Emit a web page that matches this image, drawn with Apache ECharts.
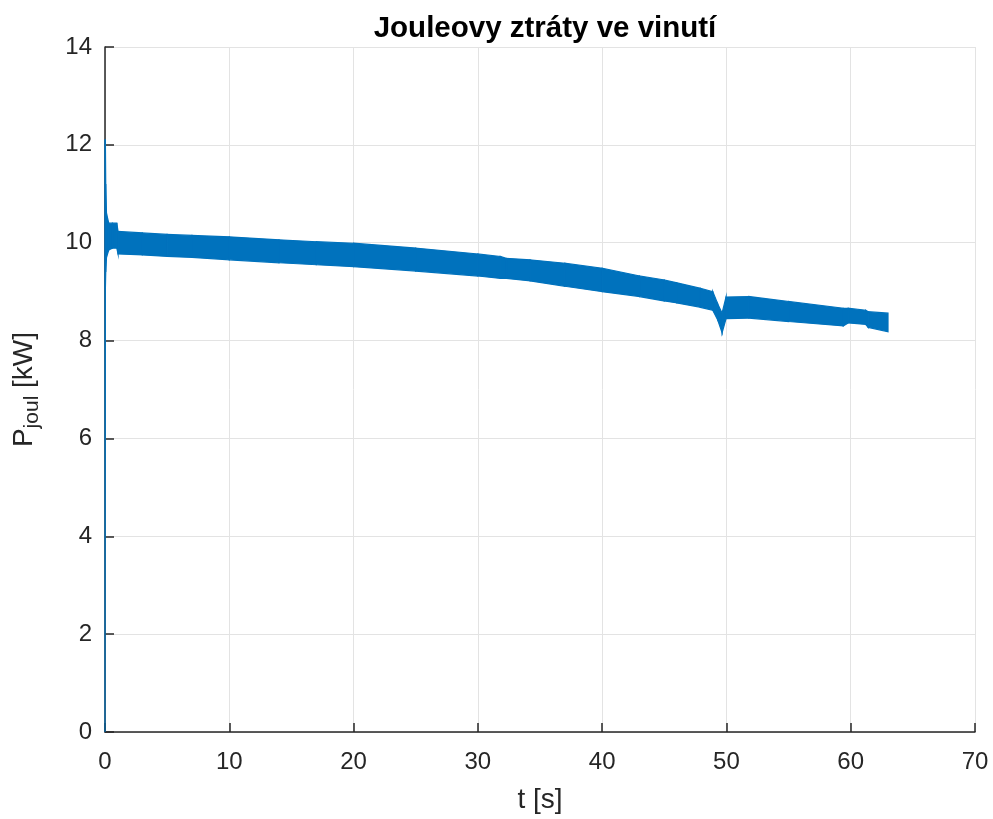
<!DOCTYPE html>
<html>
<head>
<meta charset="utf-8">
<script src="https://cdn.jsdelivr.net/npm/echarts@6/dist/echarts.min.js"></script>
<style>
html,body{margin:0;padding:0;background:#fff;}
#chart{width:993px;height:819px;}
</style>
</head>
<body>
<div id="chart"></div>
<script>
// time [s]
var tVals = [0, 0.03, 0.06, 0.12, 0.3, 0.6, 0.95, 1.05, 3, 5, 7, 10, 14, 17, 20, 25, 30, 31.8, 32.3, 34.2, 37, 40, 43, 45, 46, 47.9, 48.9, 49.3, 49.65, 49.97, 51.8, 55, 59.4, 59.8, 61.2, 61.4, 63.0];
// upper envelope of P_joul [kW]
var upperVals = [12.1, 12.1, 11.2, 10.6, 10.4, 10.4, 10.4, 10.23, 10.2, 10.17, 10.15, 10.12, 10.06, 10.02, 9.99, 9.89, 9.77, 9.72, 9.68, 9.65, 9.58, 9.48, 9.32, 9.24, 9.18, 9.07, 9.0, 8.75, 8.56, 8.89, 8.90, 8.80, 8.66, 8.66, 8.62, 8.59, 8.56];
// lower envelope of P_joul [kW]
var lowerVals = [0, 9.05, 9.4, 9.7, 9.85, 9.89, 9.89, 9.77, 9.75, 9.72, 9.7, 9.65, 9.59, 9.55, 9.51, 9.42, 9.32, 9.27, 9.27, 9.22, 9.11, 9.0, 8.9, 8.81, 8.77, 8.68, 8.62, 8.42, 8.16, 8.45, 8.46, 8.39, 8.30, 8.36, 8.33, 8.27, 8.18];
var xTicks = [0, 10, 20, 30, 40, 50, 60, 70];
var yTicks = [0, 2, 4, 6, 8, 10, 12, 14];

var blue = '#0072BD';
var txt = '#262626';
var font = 'Liberation Sans, Arial, Helvetica, sans-serif';

var bandData = tVals.map(function (t, i) { return [t, lowerVals[i], upperVals[i]]; });

function renderBand(params, api) {
  var i = params.dataIndex;
  if (i >= tVals.length - 1) return null;
  var j = i + 1;
  var p1 = api.coord([tVals[i], lowerVals[i]]);
  var p2 = api.coord([tVals[j], lowerVals[j]]);
  var p3 = api.coord([tVals[j], upperVals[j]]);
  var p4 = api.coord([tVals[i], upperVals[i]]);
  return {
    type: 'polygon',
    shape: {points: [p1, p2, p3, p4]},
    style: {fill: blue, stroke: blue, lineWidth: 1.2}
  };
}

var chart = echarts.init(document.getElementById('chart'), null, {renderer: 'canvas'});
chart.setOption({
  animation: false,
  backgroundColor: '#ffffff',
  title: {
    text: 'Jouleovy ztráty ve vinutí',
    left: 540, top: 9, textAlign: 'center',
    textStyle: {fontFamily: font, fontSize: 29.5, fontWeight: 'bold', color: '#000'}
  },
  grid: {left: 105, right: 18, top: 47, bottom: 87, containLabel: false, outerBoundsMode: 'none'},
  xAxis: {
    type: 'value', min: xTicks[0], max: xTicks[xTicks.length - 1], interval: 10,
    name: 't [s]', nameLocation: 'middle', nameGap: 54,
    nameTextStyle: {fontFamily: font, fontSize: 28, color: txt},
    axisLine: {show: true, onZero: false, lineStyle: {color: txt, width: 1.5}},
    axisTick: {show: true, inside: true, length: 9, lineStyle: {color: txt, width: 1.5}},
    axisLabel: {fontFamily: font, fontSize: 24, color: txt, margin: 18},
    splitLine: {show: true, lineStyle: {color: '#e3e3e3', width: 1}}
  },
  yAxis: {
    type: 'value', min: yTicks[0], max: yTicks[yTicks.length - 1], interval: 2,
    name: '{a|P}{b|joul}{a| [kW]}', nameLocation: 'middle', nameGap: 62, nameRotate: 90,
    nameTextStyle: {
      fontFamily: font, color: txt,
      rich: {
        a: {fontFamily: font, fontSize: 28, color: txt, verticalAlign: 'middle'},
        b: {fontFamily: font, fontSize: 21, color: txt, verticalAlign: 'bottom', padding: [17, 0, 0, 0]}
      }
    },
    axisLine: {show: true, onZero: false, lineStyle: {color: txt, width: 1.5}},
    axisTick: {show: true, inside: true, length: 9, lineStyle: {color: txt, width: 1.5}},
    axisLabel: {fontFamily: font, fontSize: 24, color: txt, margin: 13},
    splitLine: {show: true, lineStyle: {color: '#e3e3e3', width: 1}}
  },
  series: [
    {
      type: 'custom', name: 'P_joul', data: bandData,
      encode: {x: 0, y: [1, 2]},
      renderItem: renderBand,
      clip: false,
      z: 5
    }
  ]
});
</script>
</body>
</html>
